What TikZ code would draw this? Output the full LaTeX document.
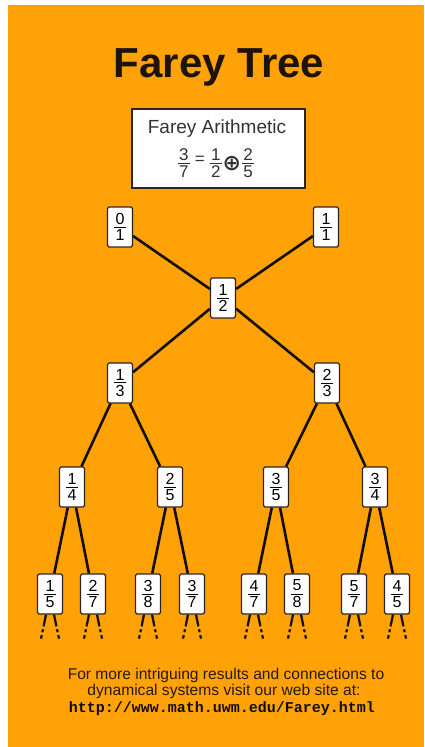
\documentclass[tikz,border=0pt]{standalone}
\usepackage{amsmath}
\usepackage{fontspec}
\setmainfont{Liberation Sans}
\newfontfamily\urlfont{Liberation Mono}
\newfontfamily\opfont{DejaVu Sans}
\definecolor{fareyorange}{RGB}{255,162,8}
\definecolor{boxline}{RGB}{45,35,30}
\newcommand\fr[2]{\vbox{\hbox to 12pt{\hss#1\hss}\kern2.4pt\hrule height 0.8pt\kern2.4pt\hbox to 12pt{\hss#2\hss}}}

\begin{document}
\begin{tikzpicture}[x=1pt,y=-1pt,
	fracbox/.style={rectangle, draw=boxline, line width=1.2pt, fill=white, rounded corners=1.5pt,
		minimum width=25pt, minimum height=40pt, inner sep=0pt, font=\fontsize{16}{18}\selectfont},
	edge/.style={line width=2.6pt, black!90!brown},
	stub/.style={line width=2.2pt, black!90!brown, dash pattern=on 12pt off 3pt on 3pt off 3pt on 4pt}]
	\useasboundingbox (0,0) rectangle (424,747);
	\fill[fareyorange] (8,5) rectangle (424,747);
	% title and rule
	\node[anchor=base, font=\bfseries\fontsize{42}{48}\selectfont, text=black!85!brown] (title) at (219,77) {Farey Tree};
	\node[rectangle, draw=boxline, line width=1.2pt, fill=white, minimum width=173pt, minimum height=79pt] (arith) at (218.5,148.5) {};
	\node[anchor=base, font=\fontsize{19}{22}\selectfont, text=black!80] (arithlabel) at (217,133) {Farey Arithmetic};
	\node[font=\fontsize{17}{20}\selectfont, text=black!80, inner sep=0pt] (arithsum) at (216,163)
		{\fr{3}{7}\kern5pt\raisebox{13pt}{=}\kern5pt\fr{1}{2}\kern1pt\raisebox{7.5pt}{\opfont\bfseries\fontsize{22}{24}\selectfont ⊕}\kern1pt\fr{2}{5}};
	% tree
	\node[fracbox] (f01) at (120,227) {\fr{0}{1}};
	\node[fracbox] (f11) at (326,227) {\fr{1}{1}};
	\node[fracbox] (f12) at (223,298) {\fr{1}{2}};
	\node[fracbox] (f13) at (120,383) {\fr{1}{3}};
	\node[fracbox] (f23) at (327,383) {\fr{2}{3}};
	\foreach \n/\x/\a/\b in {f14/72/1/4, f25/170/2/5, f35/276/3/5, f34/375/3/4}
		\node[fracbox] (\n) at (\x,487) {\fr{\a}{\b}};
	\foreach \n/\x/\a/\b in {f15/50/1/5, f27/93/2/7, f38/148/3/8, f37/192/3/7,
		f47/254/4/7, f58/297/5/8, f57/354/5/7, f45/397/4/5} {
		\node[fracbox] (\n) at (\x,594) {\fr{\a}{\b}};
		\draw[stub] (\n.south) ++(-4,0) -- ++(-5,24);
		\draw[stub] (\n.south) ++(4,0) -- ++(5,24);
	}
	\foreach \p/\c in {f01/f12, f11/f12, f12/f13, f12/f23, f13/f14, f13/f25, f23/f35, f23/f34,
		f14/f15, f14/f27, f25/f38, f25/f37, f35/f47, f35/f58, f34/f57, f34/f45}
		\draw[edge] (\p) -- (\c);
	% footer
	\node[anchor=base, font=\fontsize{15.6}{18}\selectfont, text=black!80!brown] (note1) at (226,679) {For more intriguing results and connections to};
	\node[anchor=base, font=\fontsize{15.6}{18}\selectfont, text=black!80!brown] (note2) at (224,695) {dynamical systems visit our web site at:};
	\node[anchor=base, font=\urlfont\bfseries\fontsize{15}{17}\selectfont, text=black!90!brown] (url) at (222,712) {http://www.math.uwm.edu/Farey.html};
\end{tikzpicture}
\end{document}
